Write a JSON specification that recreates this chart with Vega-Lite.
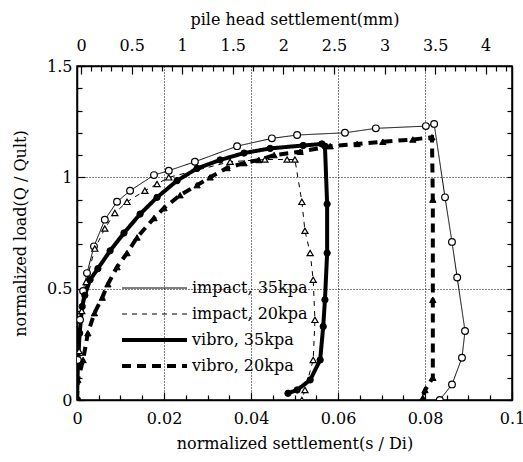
{
  "$schema": "https://vega.github.io/schema/vega-lite/v6.json",
  "width": 435,
  "height": 334,
  "autosize": {"type": "none"},
  "padding": {"left": 77, "top": 66, "right": 11, "bottom": 62},
  "background": "white",
  "config": {
    "view": {"stroke": "black", "strokeWidth": 1.5},
    "font": "DejaVu Serif",
    "axis": {"labelFont": "DejaVu Serif", "titleFont": "DejaVu Serif", "labelFontSize": 16, "titleFontSize": 16, "titleFontWeight": "normal", "labelColor": "black", "titleColor": "black", "domainColor": "black", "domainWidth": 1.5, "tickColor": "black", "tickWidth": 1.2, "gridColor": "black", "gridDash": [1, 2], "gridWidth": 1},
    "legend": {"labelFont": "DejaVu Serif", "labelFontSize": 16, "labelColor": "black"}
  },
  "datasets": {
    "curves": [
      {"s": "impact, 35kpa", "i": 0, "x": 0, "y": 0},
      {"s": "impact, 35kpa", "i": 1, "x": 0.0002, "y": 0.18},
      {"s": "impact, 35kpa", "i": 2, "x": 0.0007, "y": 0.36},
      {"s": "impact, 35kpa", "i": 3, "x": 0.0014, "y": 0.49},
      {"s": "impact, 35kpa", "i": 4, "x": 0.0023, "y": 0.57},
      {"s": "impact, 35kpa", "i": 5, "x": 0.0039, "y": 0.69},
      {"s": "impact, 35kpa", "i": 6, "x": 0.0064, "y": 0.81},
      {"s": "impact, 35kpa", "i": 7, "x": 0.0092, "y": 0.89},
      {"s": "impact, 35kpa", "i": 8, "x": 0.0122, "y": 0.94},
      {"s": "impact, 35kpa", "i": 9, "x": 0.0177, "y": 1.01},
      {"s": "impact, 35kpa", "i": 10, "x": 0.0211, "y": 1.03},
      {"s": "impact, 35kpa", "i": 11, "x": 0.0271, "y": 1.07},
      {"s": "impact, 35kpa", "i": 12, "x": 0.0368, "y": 1.14},
      {"s": "impact, 35kpa", "i": 13, "x": 0.0448, "y": 1.175},
      {"s": "impact, 35kpa", "i": 14, "x": 0.0506, "y": 1.19},
      {"s": "impact, 35kpa", "i": 15, "x": 0.0616, "y": 1.2},
      {"s": "impact, 35kpa", "i": 16, "x": 0.0687, "y": 1.22},
      {"s": "impact, 35kpa", "i": 17, "x": 0.0802, "y": 1.23},
      {"s": "impact, 35kpa", "i": 18, "x": 0.0821, "y": 1.24},
      {"s": "impact, 35kpa", "i": 19, "x": 0.0846, "y": 0.91},
      {"s": "impact, 35kpa", "i": 20, "x": 0.0862, "y": 0.71},
      {"s": "impact, 35kpa", "i": 21, "x": 0.0874, "y": 0.55},
      {"s": "impact, 35kpa", "i": 22, "x": 0.0892, "y": 0.31},
      {"s": "impact, 35kpa", "i": 23, "x": 0.0885, "y": 0.19},
      {"s": "impact, 35kpa", "i": 24, "x": 0.0862, "y": 0.07},
      {"s": "impact, 35kpa", "i": 25, "x": 0.0834, "y": 0},

      {"s": "impact, 20kpa", "i": 0, "x": 0, "y": 0},
      {"s": "impact, 20kpa", "i": 1, "x": 0.0005, "y": 0.22},
      {"s": "impact, 20kpa", "i": 2, "x": 0.0011, "y": 0.4},
      {"s": "impact, 20kpa", "i": 3, "x": 0.0021, "y": 0.53},
      {"s": "impact, 20kpa", "i": 4, "x": 0.0041, "y": 0.68},
      {"s": "impact, 20kpa", "i": 5, "x": 0.0064, "y": 0.77},
      {"s": "impact, 20kpa", "i": 6, "x": 0.0087, "y": 0.84},
      {"s": "impact, 20kpa", "i": 7, "x": 0.0115, "y": 0.89},
      {"s": "impact, 20kpa", "i": 8, "x": 0.0156, "y": 0.94},
      {"s": "impact, 20kpa", "i": 9, "x": 0.0184, "y": 0.97},
      {"s": "impact, 20kpa", "i": 10, "x": 0.0211, "y": 1.0},
      {"s": "impact, 20kpa", "i": 11, "x": 0.0352, "y": 1.07},
      {"s": "impact, 20kpa", "i": 12, "x": 0.0432, "y": 1.08},
      {"s": "impact, 20kpa", "i": 13, "x": 0.0483, "y": 1.08},
      {"s": "impact, 20kpa", "i": 14, "x": 0.0501, "y": 1.08},
      {"s": "impact, 20kpa", "i": 15, "x": 0.0517, "y": 0.89},
      {"s": "impact, 20kpa", "i": 16, "x": 0.0524, "y": 0.76},
      {"s": "impact, 20kpa", "i": 17, "x": 0.0536, "y": 0.66},
      {"s": "impact, 20kpa", "i": 18, "x": 0.0543, "y": 0.54},
      {"s": "impact, 20kpa", "i": 19, "x": 0.0547, "y": 0.36},
      {"s": "impact, 20kpa", "i": 20, "x": 0.0543, "y": 0.18},
      {"s": "impact, 20kpa", "i": 21, "x": 0.0524, "y": 0.045},
      {"s": "impact, 20kpa", "i": 22, "x": 0.0517, "y": 0},

      {"s": "vibro, 35kpa", "i": 0, "x": 0, "y": 0},
      {"s": "vibro, 35kpa", "i": 1, "x": 0.0002, "y": 0.15},
      {"s": "vibro, 35kpa", "i": 2, "x": 0.0006, "y": 0.3},
      {"s": "vibro, 35kpa", "i": 3, "x": 0.0012, "y": 0.42},
      {"s": "vibro, 35kpa", "i": 4, "x": 0.0018, "y": 0.47},
      {"s": "vibro, 35kpa", "i": 5, "x": 0.003, "y": 0.54},
      {"s": "vibro, 35kpa", "i": 6, "x": 0.0048, "y": 0.59},
      {"s": "vibro, 35kpa", "i": 7, "x": 0.0076, "y": 0.67},
      {"s": "vibro, 35kpa", "i": 8, "x": 0.0108, "y": 0.75},
      {"s": "vibro, 35kpa", "i": 9, "x": 0.0145, "y": 0.835},
      {"s": "vibro, 35kpa", "i": 10, "x": 0.0184, "y": 0.91},
      {"s": "vibro, 35kpa", "i": 11, "x": 0.023, "y": 0.985},
      {"s": "vibro, 35kpa", "i": 12, "x": 0.0276, "y": 1.04},
      {"s": "vibro, 35kpa", "i": 13, "x": 0.0329, "y": 1.078},
      {"s": "vibro, 35kpa", "i": 14, "x": 0.0384, "y": 1.109},
      {"s": "vibro, 35kpa", "i": 15, "x": 0.0444, "y": 1.13},
      {"s": "vibro, 35kpa", "i": 16, "x": 0.052, "y": 1.143},
      {"s": "vibro, 35kpa", "i": 17, "x": 0.0563, "y": 1.15},
      {"s": "vibro, 35kpa", "i": 18, "x": 0.057, "y": 1.14},
      {"s": "vibro, 35kpa", "i": 19, "x": 0.0575, "y": 0.88},
      {"s": "vibro, 35kpa", "i": 20, "x": 0.0575, "y": 0.66},
      {"s": "vibro, 35kpa", "i": 21, "x": 0.057, "y": 0.45},
      {"s": "vibro, 35kpa", "i": 22, "x": 0.0566, "y": 0.33},
      {"s": "vibro, 35kpa", "i": 23, "x": 0.0559, "y": 0.18},
      {"s": "vibro, 35kpa", "i": 24, "x": 0.0536, "y": 0.09},
      {"s": "vibro, 35kpa", "i": 25, "x": 0.0506, "y": 0.045},
      {"s": "vibro, 35kpa", "i": 26, "x": 0.0485, "y": 0.03},

      {"s": "vibro, 20kpa", "i": 0, "x": 0, "y": 0},
      {"s": "vibro, 20kpa", "i": 1, "x": 0.0002, "y": 0.09},
      {"s": "vibro, 20kpa", "i": 2, "x": 0.0014, "y": 0.18},
      {"s": "vibro, 20kpa", "i": 3, "x": 0.0025, "y": 0.3},
      {"s": "vibro, 20kpa", "i": 4, "x": 0.004, "y": 0.39},
      {"s": "vibro, 20kpa", "i": 5, "x": 0.0058, "y": 0.46},
      {"s": "vibro, 20kpa", "i": 6, "x": 0.0071, "y": 0.52},
      {"s": "vibro, 20kpa", "i": 7, "x": 0.0092, "y": 0.597},
      {"s": "vibro, 20kpa", "i": 8, "x": 0.0115, "y": 0.66},
      {"s": "vibro, 20kpa", "i": 9, "x": 0.0138, "y": 0.73},
      {"s": "vibro, 20kpa", "i": 10, "x": 0.0177, "y": 0.817},
      {"s": "vibro, 20kpa", "i": 11, "x": 0.02, "y": 0.862},
      {"s": "vibro, 20kpa", "i": 12, "x": 0.0237, "y": 0.92},
      {"s": "vibro, 20kpa", "i": 13, "x": 0.0276, "y": 0.965},
      {"s": "vibro, 20kpa", "i": 14, "x": 0.0306, "y": 1.0},
      {"s": "vibro, 20kpa", "i": 15, "x": 0.0345, "y": 1.042},
      {"s": "vibro, 20kpa", "i": 16, "x": 0.0384, "y": 1.064},
      {"s": "vibro, 20kpa", "i": 17, "x": 0.0418, "y": 1.078},
      {"s": "vibro, 20kpa", "i": 18, "x": 0.0453, "y": 1.1},
      {"s": "vibro, 20kpa", "i": 19, "x": 0.0513, "y": 1.115},
      {"s": "vibro, 20kpa", "i": 20, "x": 0.0582, "y": 1.14},
      {"s": "vibro, 20kpa", "i": 21, "x": 0.0644, "y": 1.15},
      {"s": "vibro, 20kpa", "i": 22, "x": 0.0703, "y": 1.16},
      {"s": "vibro, 20kpa", "i": 23, "x": 0.0772, "y": 1.17},
      {"s": "vibro, 20kpa", "i": 24, "x": 0.0816, "y": 1.18},
      {"s": "vibro, 20kpa", "i": 25, "x": 0.0818, "y": 0.9},
      {"s": "vibro, 20kpa", "i": 26, "x": 0.0818, "y": 0.45},
      {"s": "vibro, 20kpa", "i": 27, "x": 0.0818, "y": 0.1},
      {"s": "vibro, 20kpa", "i": 28, "x": 0.08, "y": 0.045},
      {"s": "vibro, 20kpa", "i": 29, "x": 0.0795, "y": 0.01}
    ],
    "frame": [
      {"mm": 0, "q": 0},
      {"mm": 4, "q": 1.5}
    ]
  },
  "resolve": {"scale": {"x": "independent", "y": "independent"}},
  "layer": [
    {
      "data": {"name": "curves"},
      "encoding": {
        "x": {
          "field": "x", "type": "quantitative",
          "scale": {"domain": [0, 0.1], "nice": false, "zero": false},
          "axis": {
            "orient": "bottom",
            "title": "normalized settlement(s / Di)",
            "values": [0, 0.005, 0.01, 0.015, 0.02, 0.025, 0.03, 0.035, 0.04, 0.045, 0.05, 0.055, 0.06, 0.065, 0.07, 0.075, 0.08, 0.085, 0.09, 0.095, 0.1],
            "labelExpr": "round(datum.value*1000) % 20 == 0 ? format(datum.value, '~g') : ''",
            "grid": true,
            "gridOpacity": {"condition": {"test": "round(datum.value*1000) % 20 == 0 && datum.value > 0.001 && datum.value < 0.099", "value": 1}, "value": 0},
            "tickSize": {"condition": {"test": "round(datum.value*1000) % 20 == 0", "value": -8}, "value": -5},
            "labelPadding": 18,
            "titlePadding": 6,
            "labelFlush": false,
            "labelOverlap": false
          }
        },
        "y": {
          "field": "y", "type": "quantitative",
          "scale": {"domain": [0, 1.5], "nice": false, "zero": false},
          "axis": {
            "orient": "left",
            "title": "normalized load(Q / Qult)",
            "values": [0, 0.1, 0.2, 0.3, 0.4, 0.5, 0.6, 0.7, 0.8, 0.9, 1, 1.1, 1.2, 1.3, 1.4, 1.5],
            "labelExpr": "round(datum.value*10) % 5 == 0 ? format(datum.value, '~g') : ''",
            "grid": true,
            "gridOpacity": {"condition": {"test": "round(datum.value*10) == 5 || round(datum.value*10) == 10", "value": 1}, "value": 0},
            "tickSize": {"condition": {"test": "round(datum.value*10) % 5 == 0", "value": -8}, "value": -5},
            "labelPadding": 13,
            "titlePadding": 18,
            "labelFlush": false,
            "labelOverlap": false
          }
        }
      },
      "layer": [
        {
          "mark": {"type": "line", "color": "black", "clip": true},
          "encoding": {
            "order": {"field": "i", "type": "quantitative"},
            "strokeDash": {
              "field": "s", "type": "ordinal",
              "scale": {"type": "ordinal", "domain": ["impact, 35kpa", "impact, 20kpa", "vibro, 35kpa", "vibro, 20kpa"], "range": [[1, 0], [5, 5], [1, 0], [9, 6]]},
              "legend": {
                "title": null,
                "orient": "none",
                "legendX": 43,
                "legendY": 209,
                "symbolType": "stroke",
                "symbolSize": 4225,
                "symbolStrokeColor": "black",
                "clipHeight": 26,
                "rowPadding": 0,
                "padding": 0,
                "labelOffset": 3,
                "labelFontSize": 16
              }
            },
            "strokeWidth": {
              "field": "s", "type": "ordinal",
              "scale": {"type": "ordinal", "domain": ["impact, 35kpa", "impact, 20kpa", "vibro, 35kpa", "vibro, 20kpa"], "range": [1, 1, 4, 4]},
              "legend": {
                "title": null,
                "orient": "none",
                "legendX": 43,
                "legendY": 209,
                "symbolType": "stroke",
                "symbolSize": 4225,
                "symbolStrokeColor": "black",
                "clipHeight": 26,
                "rowPadding": 0,
                "padding": 0,
                "labelOffset": 3,
                "labelFontSize": 16
              }
            }
          }
        },
        {
          "transform": [{"filter": "datum.s == 'impact, 35kpa'"}],
          "mark": {"type": "point", "shape": "circle", "filled": true, "fill": "white", "stroke": "black", "strokeWidth": 1.2, "opacity": 1, "size": 45, "clip": true}
        },
        {
          "transform": [{"filter": "datum.s == 'impact, 20kpa'"}],
          "mark": {"type": "point", "shape": "triangle-up", "filled": true, "fill": "white", "stroke": "black", "strokeWidth": 1.2, "opacity": 1, "size": 38, "clip": true}
        },
        {
          "transform": [{"filter": "datum.s == 'vibro, 35kpa'"}],
          "mark": {"type": "point", "shape": "circle", "filled": true, "fill": "black", "stroke": "black", "strokeWidth": 1, "opacity": 1, "size": 40, "clip": true}
        },
        {
          "transform": [{"filter": "datum.s == 'vibro, 20kpa'"}],
          "mark": {"type": "point", "shape": "triangle-up", "filled": true, "fill": "black", "stroke": "black", "strokeWidth": 1, "opacity": 1, "size": 40, "clip": true}
        }
      ]
    },
    {
      "data": {"name": "frame"},
      "mark": {"type": "point", "opacity": 0},
      "encoding": {
        "x": {
          "field": "mm", "type": "quantitative",
          "scale": {"domain": [-0.04, 4.26], "nice": false, "zero": false},
          "axis": {
            "orient": "top",
            "title": "pile head settlement(mm)",
            "values": [0, 0.1, 0.2, 0.3, 0.4, 0.5, 0.6, 0.7, 0.8, 0.9, 1, 1.1, 1.2, 1.3, 1.4, 1.5, 1.6, 1.7, 1.8, 1.9, 2, 2.1, 2.2, 2.3, 2.4, 2.5, 2.6, 2.7, 2.8, 2.9, 3, 3.1, 3.2, 3.3, 3.4, 3.5, 3.6, 3.7, 3.8, 3.9, 4, 4.1, 4.2],
            "labelExpr": "round(datum.value*10) % 5 == 0 ? format(datum.value, '~g') : ''",
            "grid": false,
            "tickSize": {"condition": {"test": "round(datum.value*10) % 5 == 0", "value": -8}, "value": -5},
            "labelPadding": 21,
            "titlePadding": 7,
            "labelFlush": false,
            "labelOverlap": false
          }
        },
        "y": {
          "field": "q", "type": "quantitative",
          "scale": {"domain": [0, 1.5], "nice": false, "zero": false},
          "axis": {
            "orient": "right",
            "title": null,
            "values": [0, 0.1, 0.2, 0.3, 0.4, 0.5, 0.6, 0.7, 0.8, 0.9, 1, 1.1, 1.2, 1.3, 1.4, 1.5],
            "labels": false,
            "grid": false,
            "tickSize": -5
          }
        }
      }
    }
  ]
}
